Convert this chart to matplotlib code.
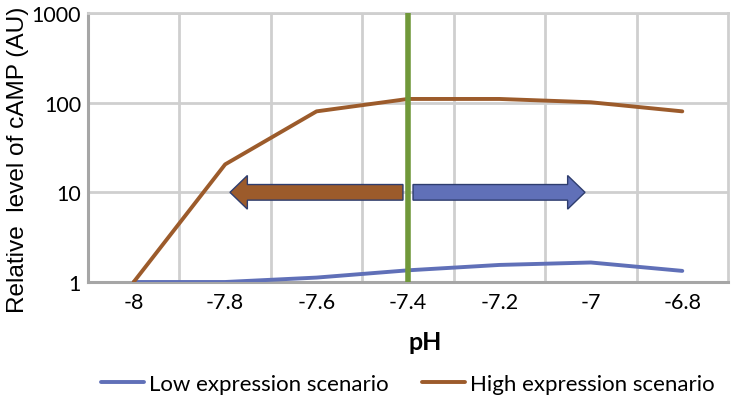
import matplotlib
matplotlib.use("Agg")
import matplotlib.pyplot as plt
from matplotlib.patches import FancyArrow
import matplotlib.transforms as mtransforms

ph_labels = ["-8", "-7.8", "-7.6", "-7.4", "-7.2", "-7", "-6.8"]
low_expr = [1.0, 1.0, 1.12, 1.35, 1.55, 1.65, 1.33]
high_expr = [1.0, 20.5, 80.0, 110.0, 110.0, 101.0, 80.0]
y_ticks = [1, 10, 100, 1000]
y_tick_labels = ["1", "10", "100", "1000"]
marker_ph = "-7.4"

plt.rcParams['font.family'] = ['Lato', 'DejaVu Sans']

fig = plt.figure(figsize=(7.31, 4.02), dpi=100)
ax = fig.add_axes([88/731, 1-283/402, 640/731, 269/402])

x = list(range(len(ph_labels)))
blue = "#6070B8"
brown = "#9C5B2B"
ax.plot(x, low_expr, color=blue, lw=2.8, solid_capstyle='round', label="Low expression scenario", zorder=3)
ax.plot(x, high_expr, color=brown, lw=2.8, solid_capstyle='round', label="High expression scenario", zorder=3)

ax.set_yscale('log')
ax.set_ylim(1, 1000)
ax.set_xlim(-0.5, len(ph_labels) - 0.5)
ax.set_yticks(y_ticks)
ax.set_yticklabels(y_tick_labels)
ax.yaxis.set_minor_locator(matplotlib.ticker.NullLocator())
ax.set_xticks(x)
ax.set_xticklabels(ph_labels)
ax.set_xticks([i + 0.5 for i in x[:-1]], minor=True)
ax.tick_params(axis='both', which='both', length=0, labelsize=15.5, colors='black')
ax.tick_params(axis='x', pad=7)
ax.tick_params(axis='y', pad=5)

gridc = "#CFCFCF"
ax.grid(True, which='major', axis='y', color=gridc, lw=2)
ax.grid(True, which='minor', axis='x', color=gridc, lw=2)
ax.set_axisbelow(True)
for s in ['top', 'right']:
    ax.spines[s].set_color(gridc)
    ax.spines[s].set_linewidth(2)
for s in ['left', 'bottom']:
    ax.spines[s].set_color("#A6A6A6")
    ax.spines[s].set_linewidth(2.2)

# green marker line
mi = ph_labels.index(marker_ph)
ax.axvline(mi, color="#70983A", lw=4, zorder=4)

# arrows
trans = mtransforms.blended_transform_factory(ax.transData, ax.transAxes)
yc = 1/3
edge = "#2E3D6E"
a1 = FancyArrow(mi - 0.055, yc, -(mi - 0.055 - 1.053), 0, width=0.058, head_width=0.125,
                head_length=0.19, length_includes_head=True, transform=trans,
                facecolor=brown, edgecolor=edge, lw=1, zorder=5)
a2 = FancyArrow(mi + 0.055, yc, 4.936 - (mi + 0.055), 0, width=0.058, head_width=0.125,
                head_length=0.19, length_includes_head=True, transform=trans,
                facecolor=blue, edgecolor=edge, lw=1, zorder=5)
ax.add_patch(a1)
ax.add_patch(a2)

ax.set_xlabel("pH", fontsize=18, fontweight='bold')
ax.xaxis.set_label_coords((425-88)/640, -(343-283)/269)
ax.xaxis.label.set_va('center')
ax.set_ylabel("Relative  level of cAMP (AU)", fontsize=17.6, family=['Liberation Sans', 'DejaVu Sans'])
ax.yaxis.set_label_coords(-(88-18)/640, (283-160)/269)
ax.yaxis.label.set_va('center')

leg = fig.legend(loc='center', bbox_to_anchor=(408/731, 1-385/402), ncol=2, frameon=False,
                 fontsize=16, handlelength=1.95, columnspacing=1.5, handletextpad=0.22)

fig.savefig("out.png", dpi=100)
